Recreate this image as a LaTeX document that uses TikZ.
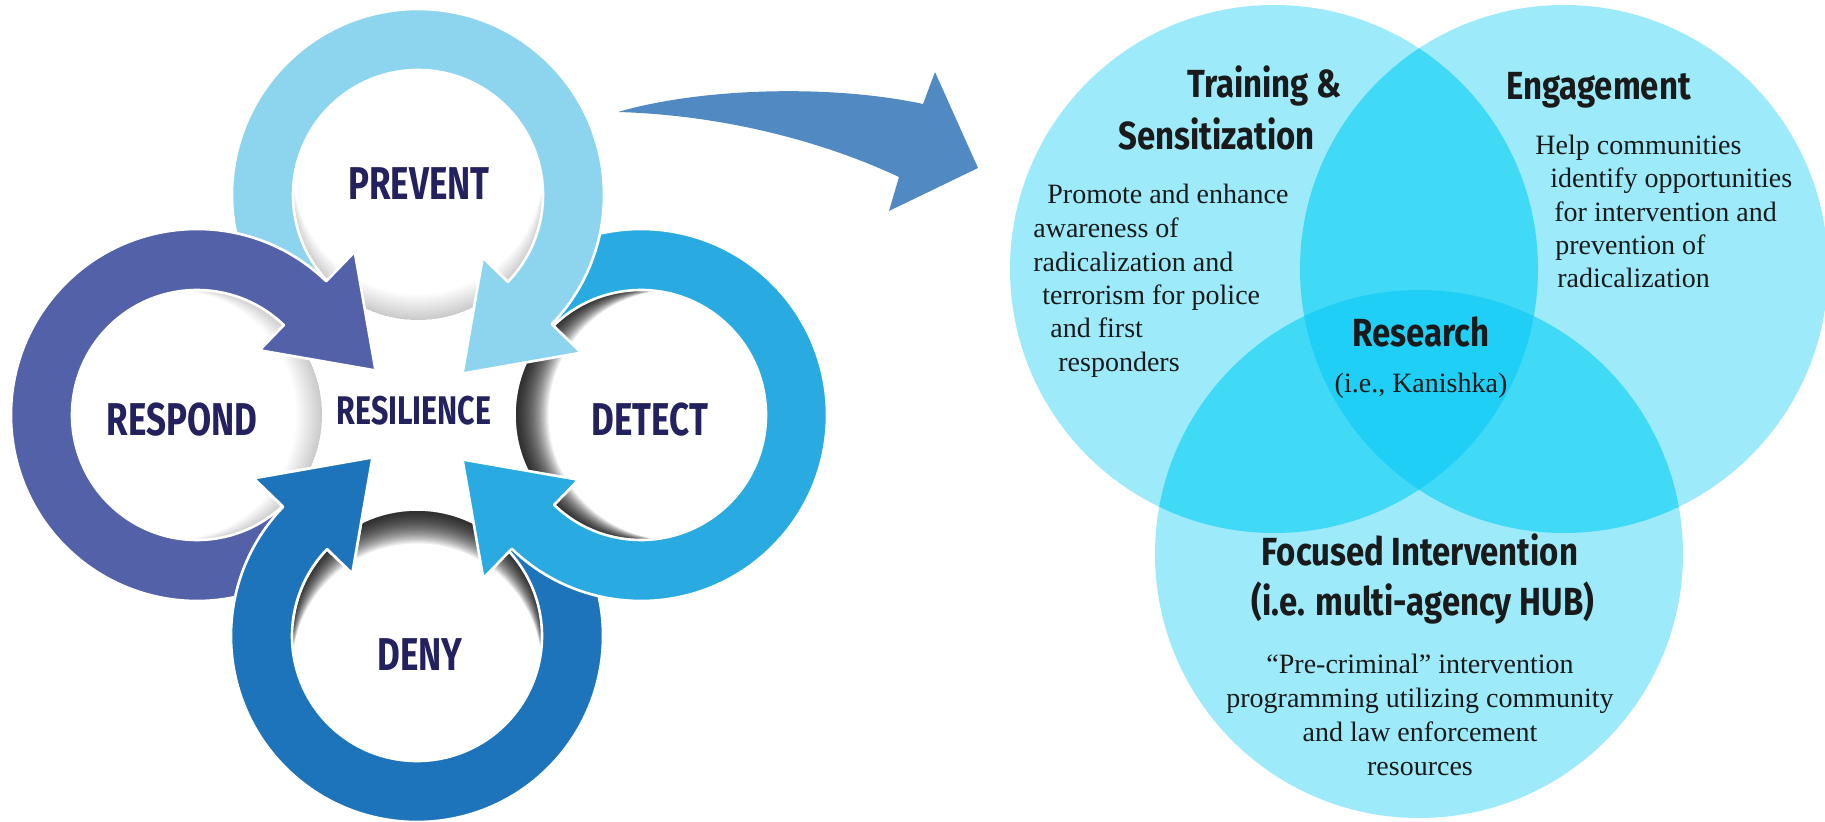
\documentclass[tikz,border=0pt]{standalone}
\usepackage{fontspec}
\setmainfont{Liberation Serif}
\newfontfamily\ringfont[FakeStretch=0.76]{Fira Sans}
\newfontfamily\headfont[FakeStretch=0.84]{Fira Sans}
\definecolor{cprev}{HTML}{8DD5EE}
\definecolor{cresp}{HTML}{5361A9}
\definecolor{cdet}{HTML}{29ABE2}
\definecolor{cdeny}{HTML}{1E74BB}
\definecolor{cnavy}{HTML}{24215F}
\definecolor{cbig}{HTML}{5189C2}
\definecolor{vone}{HTML}{9DEAFA}
\definecolor{vtwo}{HTML}{40D9F6}
\definecolor{vthree}{HTML}{20CFF5}
\definecolor{vtext}{HTML}{1A1A1A}
% ring arrow: centre x, centre y, rotation, colour
\newcommand{\ringarrow}[4]{%
  \begin{scope}[shift={(#1,#2)},rotate=#3]
    \filldraw[ringedge, fill=#4] (46:186) arc[start angle=46,end angle=318,radius=186]
      -- (318:125) arc[start angle=318,end angle=46,radius=125]
      -- (46:90) -- (14:184) -- (46:227) -- cycle;
  \end{scope}}
% soft shadow inside a disk: centre x, centre y, step x, step y, opacity
\newcommand{\diskshadow}[5]{%
  \begin{scope}
    \clip (#1,#2) circle[radius=125];
    \foreach \k in {1,...,26}{
      \fill[black, fill opacity=#5, even odd rule]
        ({#1-130},{#2-130}) rectangle ({#1+130},{#2+130})
        ({#1+(#3)*\k},{#2+(#4)*\k}) circle[radius=125];
    }
  \end{scope}}
\begin{document}
\begin{tikzpicture}[x=0.5pt,y=0.5pt,
  ringedge/.style={draw=white, line width=1.3pt, line join=round},
  ringlabel/.style={font=\ringfont\bfseries\fontsize{23}{23}\selectfont, text=cnavy, inner sep=0, anchor=base},
  vhead/.style={font=\headfont\bfseries\fontsize{19.6}{20}\selectfont, text=vtext, inner sep=0},
  vbody/.style={font=\fontsize{14}{16}\selectfont, text=vtext, inner sep=0}]
\useasboundingbox (0,0) rectangle (1825,-822);

% ---------------- Venn diagram ----------------
\coordinate (vL) at (1274,-269);
\coordinate (vR) at (1564,-269);
\coordinate (vB) at (1419,-554);
\fill[vone] (vL) circle[radius=264];
\fill[vone] (vR) circle[radius=264];
\fill[vone] (vB) circle[radius=264];
\begin{scope}
  \clip (vL) circle[radius=264];
  \fill[vtwo] (vR) circle[radius=264];
  \fill[vtwo] (vB) circle[radius=264];
\end{scope}
\begin{scope}
  \clip (vR) circle[radius=264];
  \fill[vtwo] (vB) circle[radius=264];
\end{scope}
\begin{scope}
  \clip (vL) circle[radius=264];
  \clip (vR) circle[radius=264];
  \fill[vthree] (vB) circle[radius=264];
\end{scope}

% ---------------- big arrow ----------------
\fill[cbig] (618,-112) .. controls (700,-88) and (830,-84) .. (923,-104)
  -- (935,-72) -- (978,-168) -- (889,-211) -- (899,-177)
  .. controls (820,-140) and (720,-115) .. (618,-112) -- cycle;

% ---------------- shadows in the disks ----------------
\diskshadow{641}{-415}{1.25}{0}{0.062}
\diskshadow{417}{-636}{0}{-1.25}{0.062}
\diskshadow{418}{-195}{0}{1.0}{0.007}
\diskshadow{197}{-415}{-1.0}{0}{0.007}

% ---------------- ring arrows ----------------
\ringarrow{417}{-636}{90}{cdeny}
\ringarrow{641}{-415}{180}{cdet}
\ringarrow{418}{-195}{-90}{cprev}
\ringarrow{197}{-415}{0}{cresp}
\begin{scope}
  \clip (215,-440) rectangle (400,-625);
  \ringarrow{417}{-636}{90}{cdeny}
\end{scope}

% ---------------- ring labels ----------------
\node[ringlabel] (prevent) at (419,-200) {PREVENT};
\node[ringlabel] (respond) at (182,-436) {RESPOND};
\node[ringlabel] (detect) at (650,-436) {DETECT};
\node[ringlabel] (deny) at (420,-671) {DENY};
\node[ringlabel, font=\ringfont\bfseries\fontsize{20}{20}\selectfont] (resil) at (414,-425) {RESILIENCE};

% ---------------- Venn texts ----------------
\node[vhead, anchor=base west] (train) at (1187,-98) {Training \&};
\node[vhead, anchor=base west] (sens) at (1118,-150) {Sensitization};
\node[vbody, anchor=base west] (t1) at (1047,-204) {Promote and enhance};
\node[vbody, anchor=base west] (t2) at (1033,-238) {awareness of};
\node[vbody, anchor=base west] (t3) at (1033,-272) {radicalization and};
\node[vbody, anchor=base west] (t4) at (1042,-305) {terrorism for police};
\node[vbody, anchor=base west] (t5) at (1050,-338) {and first};
\node[vbody, anchor=base west] (t6) at (1058,-372) {responders};

\node[vhead, anchor=base west] (engage) at (1506,-100) {Engagement};
\node[vbody, anchor=base west] (e1) at (1535,-155) {Help communities};
\node[vbody, anchor=base west] (e2) at (1550,-188) {identify opportunities};
\node[vbody, anchor=base west] (e3) at (1554,-222) {for intervention and};
\node[vbody, anchor=base west] (e4) at (1555,-255) {prevention of};
\node[vbody, anchor=base west] (e5) at (1557,-288) {radicalization};

\node[vhead, anchor=base] (research) at (1421,-347) {Research};
\node[vbody, anchor=base] (kan) at (1421,-393) {(i.e., Kanishka)};

\node[vhead, anchor=base] (focus) at (1420,-566) {Focused Intervention};
\node[vhead, anchor=base] (hub) at (1423,-616) {(i.e. multi-agency HUB)};
\node[vbody, anchor=base] (f1) at (1420,-674) {“Pre-criminal” intervention};
\node[vbody, anchor=base] (f2) at (1420,-708) {programming utilizing community};
\node[vbody, anchor=base] (f3) at (1420,-741) {and law enforcement};
\node[vbody, anchor=base] (f4) at (1420,-775) {resources};
\end{tikzpicture}
\end{document}
